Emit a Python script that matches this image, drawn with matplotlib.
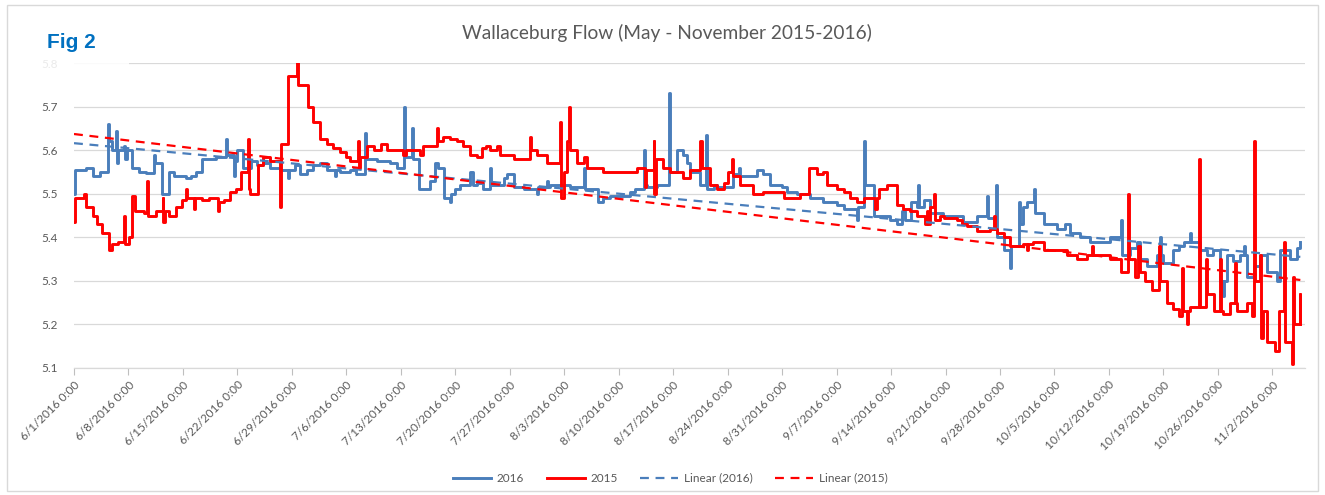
import numpy as np
import pandas as pd
import matplotlib
matplotlib.use("Agg")
import matplotlib.pyplot as plt
from matplotlib.patches import Rectangle

plt.rcParams['font.family'] = ['Lato', 'DejaVu Sans']

# days after 6/1/2016 0:00 where the level changes, and the level (m)
days_2016 = [0.0, 0.15, 1.5, 2.4, 3.4, 4.4, 4.55, 4.9, 5.4, 5.5, 5.6, 6.4, 6.6, 6.75, 7.5, 8.4, 9.2, 10.3, 10.45,
             11.3, 12.2, 12.9, 14.4, 15.0, 15.7, 16.5, 18.2, 19.5, 19.65, 20.5, 20.65, 21.0, 21.7, 22.7, 23.5, 24.3,
             25.2, 26.5, 27.5, 27.65, 28.4, 29.0, 29.9, 30.7, 31.6, 32.5, 33.5, 33.65, 34.2, 35.5, 36.3, 37.4, 37.55,
             38.9, 40.6, 41.5, 42.4, 42.55, 43.4, 43.55, 44.4, 45.7, 46.4, 46.8, 47.5, 48.3, 48.45, 49.0, 49.6, 50.9,
             51.3, 51.8, 52.6, 53.5, 53.65, 55.2, 55.6, 56.5, 57.8, 59.5, 59.65, 60.8, 60.95, 61.2, 63.8, 65.5, 65.65,
             67.4, 68.0, 68.9, 71.5, 72.1, 73.2, 73.35, 73.6, 74.9, 76.5, 76.65, 77.5, 78.3, 78.75, 79.2, 80.5, 81.2,
             81.4, 82.2, 82.6, 84.75, 85.4, 85.55, 87.75, 88.6, 89.5, 91.0, 91.6, 92.9, 94.6, 96.3, 98.0, 98.9, 100.6,
             100.75, 101.5, 101.65, 102.75, 104.9, 105.75, 106.4, 106.8, 107.6, 108.3, 108.5, 108.65, 109.2, 110.0,
             111.7, 114.3, 116.0, 117.3, 117.45, 118.5, 118.65, 119.5, 120.3, 120.45, 121.4, 121.55, 122.0, 122.5,
             123.4, 123.55, 124.6, 126.3, 127.4, 128.0, 129.3, 130.6, 133.2, 134.5, 134.65, 135.7, 136.6, 137.0,
             137.9, 139.2, 139.6, 139.75, 140.0, 141.3, 141.95, 142.6, 143.45, 143.6, 144.7, 145.6, 146.4, 147.3,
             147.7, 147.85, 148.2, 149.0, 149.9, 150.3, 150.45, 150.7, 151.6, 152.4, 153.3, 154.6, 155.0, 156.3,
             157.2, 157.6]
flow_2016 = [5.50, 5.555, 5.56, 5.54, 5.55, 5.66, 5.62, 5.60, 5.645, 5.57, 5.60, 5.61, 5.58, 5.60, 5.56, 5.55, 5.548,
             5.59, 5.57, 5.50, 5.55, 5.54, 5.535, 5.54, 5.55, 5.58, 5.585, 5.625, 5.59, 5.54, 5.575, 5.60, 5.56, 5.575,
             5.565, 5.57, 5.56, 5.555, 5.535, 5.555, 5.565, 5.545, 5.555, 5.565, 5.57, 5.555, 5.54, 5.555, 5.55, 5.555,
             5.545, 5.64, 5.58, 5.575, 5.57, 5.56, 5.70, 5.585, 5.65, 5.58, 5.51, 5.53, 5.57, 5.56, 5.49, 5.48, 5.50,
             5.51, 5.52, 5.55, 5.52, 5.525, 5.51, 5.56, 5.52, 5.535, 5.545, 5.515, 5.51, 5.50, 5.515, 5.53, 5.515,
             5.52, 5.515, 5.56, 5.51, 5.48, 5.49, 5.495, 5.505, 5.51, 5.60, 5.52, 5.515, 5.52, 5.73, 5.55, 5.60, 5.59,
             5.57, 5.55, 5.52, 5.635, 5.51, 5.52, 5.515, 5.545, 5.56, 5.54, 5.555, 5.545, 5.52, 5.515, 5.505, 5.50,
             5.49, 5.48, 5.475, 5.465, 5.44, 5.47, 5.62, 5.52, 5.45, 5.44, 5.43, 5.46, 5.44, 5.48, 5.47, 5.52, 5.47,
             5.485, 5.455, 5.45, 5.435, 5.45, 5.495, 5.445, 5.52, 5.40, 5.37, 5.33, 5.38, 5.48, 5.43, 5.47, 5.48,
             5.51, 5.455, 5.43, 5.42, 5.43, 5.41, 5.40, 5.39, 5.40, 5.44, 5.36, 5.375, 5.39, 5.35, 5.335, 5.36, 5.40,
             5.36, 5.34, 5.37, 5.38, 5.39, 5.41, 5.39, 5.37, 5.36, 5.37, 5.30, 5.265, 5.30, 5.36, 5.345, 5.36, 5.38,
             5.36, 5.31, 5.335, 5.36, 5.32, 5.30, 5.37, 5.35, 5.375, 5.39]

days_2015 = [0.0, 0.15, 1.3, 1.5, 2.4, 3.0, 3.6, 4.5, 4.9, 5.6, 6.4, 6.55, 7.1, 7.5, 7.9, 9.0, 9.4, 9.55, 10.5, 11.4,
             11.5, 11.65, 12.2, 13.1, 13.9, 14.4, 14.55, 15.45, 15.6, 16.5, 17.4, 18.5, 18.65, 19.3, 20.0, 20.8, 21.5,
             22.3, 22.45, 22.6, 23.7, 24.3, 25.2, 26.5, 26.65, 27.5, 28.6, 28.75, 30.1, 30.7, 31.6, 32.5, 33.3, 34.2,
             35.0, 35.5, 36.5, 36.6, 36.75, 37.6, 38.5, 39.5, 40.2, 42.3, 42.7, 44.45, 44.9, 46.6, 46.75, 47.45, 48.3,
             49.2, 50.0, 50.9, 51.8, 52.4, 53.0, 53.5, 54.3, 54.75, 56.5, 58.6, 58.75, 59.5, 60.75, 62.4, 62.55, 63.0,
             63.3, 63.55, 63.7, 64.6, 65.5, 65.9, 68.0, 72.3, 73.4, 73.55, 74.5, 74.6, 74.75, 75.75, 76.6, 78.3,
             79.2, 80.5, 80.65, 81.75, 82.6, 83.5, 84.1, 84.5, 84.65, 85.6, 87.3, 88.6, 91.2, 93.3, 94.4, 95.5, 96.3,
             96.75, 98.0, 98.9, 99.75, 100.6, 101.5, 103.0, 103.15, 103.4, 104.5, 105.75, 106.6, 107.5, 108.3, 109.4,
             109.6, 109.75, 110.0, 110.55, 110.7, 111.3, 111.75, 113.5, 114.1, 114.75, 116.0, 117.7, 118.2, 118.35,
             118.6, 119.5, 120.3, 122.0, 122.5, 122.65, 123.3, 124.6, 127.6, 128.9, 130.2, 130.8, 130.95, 133.2,
             134.5, 135.4, 135.55, 136.4, 136.8, 136.95, 137.7, 138.5, 139.4, 139.55, 140.45, 141.3, 141.95, 142.4,
             142.55, 143.0, 143.15, 143.45, 144.55, 144.7, 145.5, 145.65, 146.45, 147.3, 147.45, 147.7, 148.6, 149.2,
             149.35, 149.5, 150.7, 151.4, 151.6, 151.75, 152.45, 152.6, 152.75, 153.3, 154.4, 154.8, 155.45, 155.6,
             156.5, 156.65, 156.75, 157.5, 157.6]
flow_2015 = [5.435, 5.49, 5.50, 5.47, 5.45, 5.43, 5.41, 5.37, 5.385, 5.39, 5.45, 5.385, 5.40, 5.495, 5.46, 5.455,
             5.53, 5.45, 5.46, 5.49, 5.435, 5.46, 5.45, 5.47, 5.485, 5.51, 5.49, 5.465, 5.49, 5.485, 5.49, 5.46, 5.48,
             5.485, 5.505, 5.51, 5.55, 5.625, 5.51, 5.50, 5.565, 5.585, 5.575, 5.47, 5.615, 5.77, 5.82, 5.75, 5.70,
             5.665, 5.625, 5.615, 5.605, 5.595, 5.585, 5.575, 5.62, 5.56, 5.585, 5.61, 5.60, 5.615, 5.60, 5.59, 5.60,
             5.59, 5.61, 5.65, 5.62, 5.63, 5.625, 5.62, 5.61, 5.59, 5.585, 5.605, 5.61, 5.60, 5.61, 5.59, 5.58, 5.63,
             5.60, 5.59, 5.57, 5.665, 5.49, 5.55, 5.62, 5.70, 5.60, 5.57, 5.585, 5.56, 5.55, 5.56, 5.515, 5.555, 5.62,
             5.50, 5.58, 5.56, 5.55, 5.535, 5.555, 5.62, 5.56, 5.52, 5.51, 5.525, 5.55, 5.58, 5.54, 5.52, 5.50, 5.505,
             5.49, 5.50, 5.56, 5.545, 5.55, 5.52, 5.51, 5.505, 5.49, 5.48, 5.49, 5.465, 5.49, 5.51, 5.52, 5.475,
             5.465, 5.46, 5.45, 5.43, 5.46, 5.43, 5.47, 5.50, 5.44, 5.45, 5.445, 5.44, 5.43, 5.425, 5.415, 5.42,
             5.45, 5.42, 5.41, 5.40, 5.38, 5.385, 5.37, 5.385, 5.39, 5.37, 5.36, 5.35, 5.36, 5.38, 5.36, 5.35, 5.32,
             5.50, 5.35, 5.31, 5.38, 5.32, 5.30, 5.28, 5.38, 5.30, 5.25, 5.235, 5.22, 5.33, 5.23, 5.20, 5.23, 5.24,
             5.58, 5.24, 5.35, 5.27, 5.23, 5.35, 5.23, 5.225, 5.25, 5.34, 5.25, 5.23, 5.25, 5.22, 5.62, 5.30, 5.36,
             5.17, 5.23, 5.16, 5.14, 5.23, 5.39, 5.16, 5.11, 5.31, 5.20, 5.27, 5.20]

# Excel "Linear" trendlines, values read at the first and last data point
trend_2016 = [5.616, 5.355]
trend_2015 = [5.637, 5.302]

series_names = ['2016', '2015']
series_colors = ['#4A7EBB', '#FF0000']

start = pd.Timestamp('2016-06-01')
tick_dates = pd.date_range('2016-06-01', '2016-11-02', freq='7D')
tick_labels = [f'{d.month}/{d.day}/{d.year} 0:00' for d in tick_dates]
y_ticks = [5.1, 5.2, 5.3, 5.4, 5.5, 5.6, 5.7, 5.8]


def to_dates(days):
    return start + pd.to_timedelta(np.asarray(days), unit='D')


fig = plt.figure(figsize=(13.25, 4.95), dpi=100)
ax = fig.add_axes([74 / 1325, 1 - 368 / 495, (1305 - 74) / 1325, (368 - 63) / 495])

ax.plot(to_dates(days_2016), flow_2016, drawstyle='steps-post', color=series_colors[0], lw=2.1,
        label=series_names[0], zorder=3)
ax.plot(to_dates(days_2015), flow_2015, drawstyle='steps-post', color=series_colors[1], lw=2.1,
        label=series_names[1], zorder=4)

for d, tr, name, c in [(days_2016, trend_2016, '2016', series_colors[0]),
                       (days_2015, trend_2015, '2015', series_colors[1])]:
    ax.plot(to_dates([d[0], d[-1]]), tr, color=c, lw=1.6, ls=(0, (4, 3)), label=f'Linear ({name})', zorder=5)

ax.set_ylim(5.1, 5.8)
ax.set_xlim(start, start + pd.Timedelta(days=158.2))
ax.set_yticks(y_ticks)
ax.set_yticklabels([f'{v:.1f}' for v in y_ticks], fontsize=8.5, color='#595959')
ax.set_xticks(tick_dates)
ax.set_xticklabels(tick_labels, rotation=45, ha='right', va='top', rotation_mode='anchor',
                   fontsize=8.5, color='#595959')
ax.tick_params(axis='y', length=0, pad=12)
ax.tick_params(axis='x', length=5, color='#BFBFBF', width=0.8, pad=3)
ax.grid(axis='y', color='#D9D9D9', lw=0.9)
ax.set_axisbelow(True)
for s in ['top', 'right', 'left']:
    ax.spines[s].set_visible(False)
ax.spines['bottom'].set_color('#D9D9D9')
ax.spines['bottom'].set_linewidth(0.9)

fig.text(0.503, 0.934, 'Wallaceburg Flow (May - November 2015-2016)', ha='center', va='center',
         fontsize=13.8, color='#595959')

# the "Fig 2" box sits over the top-left of the chart and hides part of it
fig.patches.append(Rectangle((12 / 1325, 1 - 70 / 495), 117 / 1325, 55 / 495, transform=fig.transFigure,
                             facecolor='white', alpha=0.88, edgecolor='none', zorder=10))
fig.text(47 / 1325, 1 - 42 / 495, 'Fig 2', ha='left', va='center', fontsize=15, fontweight='bold',
         color='#0070C0', family=['Liberation Sans', 'DejaVu Sans'], zorder=11)

fig.patches.append(Rectangle((7 / 1325, 1 - 491 / 495), 1311 / 1325, 486 / 495, transform=fig.transFigure,
                             facecolor='none', edgecolor='#D9D9D9', lw=1.0, zorder=0))

handles, labels = ax.get_legend_handles_labels()
fig.legend(handles, labels, loc='center', bbox_to_anchor=(0.506, 0.034), ncol=4, frameon=False,
           fontsize=8.5, labelcolor='#595959', handlelength=3.2, columnspacing=1.9, handletextpad=0.5)

fig.savefig('out.png', dpi=100)
